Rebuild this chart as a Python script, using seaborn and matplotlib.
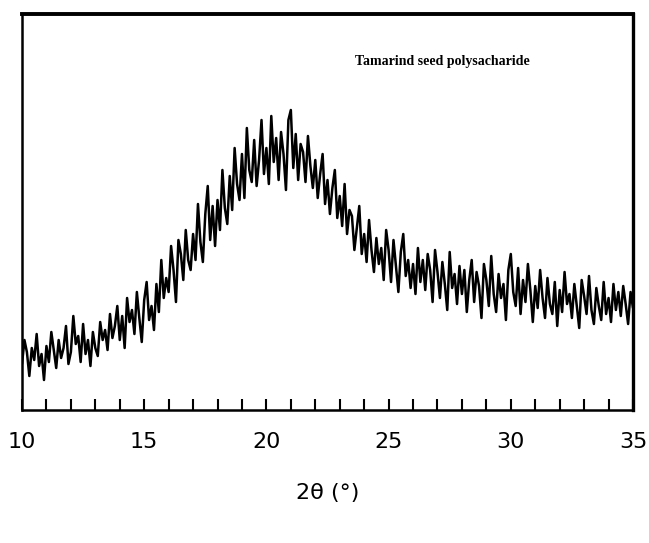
import numpy as np
import pandas as pd
import matplotlib
matplotlib.use("Agg")
import matplotlib.pyplot as plt
from matplotlib.ticker import FixedLocator, FuncFormatter
import seaborn as sns

# 2-theta grid (degrees), 0.1 deg step
two_theta = [round(10 + 0.1 * i, 1) for i in range(251)]

# intensity (arbitrary units), in groups of 0.5 deg
intensity = [
    46, 70, 58, 34, 62,
    50, 76, 44, 56, 30,
    64, 48, 78, 60, 42,
    70, 52, 62, 84, 46,
    58, 94, 66, 74, 48,
    86, 56, 70, 44, 78,
    62, 54, 88, 70, 80,
    60, 96, 72, 84, 104,
    70, 94, 62, 112, 88,
    100, 76, 118, 92, 68,
    110, 128, 90, 104, 80,
    126, 98, 150, 112, 132,
    118, 164, 140, 108, 170,
    156, 130, 180, 150, 140,
    176, 150, 206, 168, 148,
    196, 224, 170, 204, 164,
    210, 180, 240, 202, 186,
    234, 200, 262, 226, 210,
    256, 212, 282, 240, 228,
    270, 224, 250, 290, 236,
    262, 226, 294, 248, 272,
    230, 278, 256, 220, 290,
    300, 242, 276, 230, 266,
    258, 228, 274, 244, 222,
    250, 212, 236, 256, 206,
    230, 196, 222, 240, 192,
    214, 184, 226, 176, 200,
    194, 160, 182, 204, 156,
    176, 148, 190, 160, 138,
    172, 146, 162, 130, 180,
    160, 128, 170, 144, 118,
    158, 176, 134, 150, 122,
    146, 116, 162, 128, 150,
    120, 156, 140, 108, 160,
    138, 112, 148, 126, 100,
    158, 122, 136, 106, 144,
    116, 140, 98, 130, 150,
    108, 138, 124, 92, 146,
    130, 104, 154, 116, 98,
    136, 112, 126, 90, 140,
    156, 118, 104, 142, 96,
    130, 108, 146, 120, 88,
    124, 102, 140, 112, 92,
    132, 106, 96, 128, 84,
    120, 98, 138, 106, 116,
    92, 126, 104, 82, 130,
    114, 96, 134, 100, 86,
    122, 104, 90, 128, 96,
    112, 88, 126, 100, 118,
    94, 124, 106, 86, 118,
    102,
]

tick_positions = list(range(10, 36))
label_positions = [10, 15, 20, 25, 30, 35]

title_text = "Tamarind seed polysacharide"
xlabel_text = "2θ (°)"

df = pd.DataFrame({"two_theta": two_theta, "intensity": intensity})

sns.set_style("white")
plt.rcParams["font.family"] = ["Liberation Sans Narrow", "DejaVu Sans"]
plt.rcParams["text.color"] = "black"
plt.rcParams["xtick.color"] = "black"
plt.rcParams["axes.labelcolor"] = "black"

fig = plt.figure(figsize=(6.49, 5.43), dpi=100)
ax = fig.add_axes([22 / 649, 1 - 410 / 543, (633 - 22) / 649, (410 - 14) / 543])

sns.lineplot(data=df, x="two_theta", y="intensity", ax=ax,
             color="black", linewidth=1.8)

ax.set_xlim(10, 35)
ax.set_ylim(0, 396)
ax.set_ylabel("")
ax.set_yticks([])

ax.xaxis.set_major_locator(FixedLocator(tick_positions))
ax.xaxis.set_major_formatter(FuncFormatter(
    lambda v, p: f"{int(round(v))}" if int(round(v)) in label_positions else ""))
ax.tick_params(axis="x", direction="in", length=8, width=1.5, colors="black",
               pad=16, labelsize=16, bottom=True)

for side in ["left", "right", "bottom"]:
    ax.spines[side].set_color("black")
    ax.spines[side].set_linewidth(1.8)
ax.spines["top"].set_color("black")
ax.spines["top"].set_linewidth(2.8)
ax.spines["right"].set_linewidth(2.4)

ax.set_xlabel(xlabel_text, fontsize=16, labelpad=22, color="black")

ax.text(0.545, 0.88, title_text, transform=ax.transAxes,
        fontsize=10, fontweight="bold", family=["Liberation Serif", "DejaVu Serif"],
        ha="left", va="center", color="black")

fig.savefig("out.png", dpi=100)
